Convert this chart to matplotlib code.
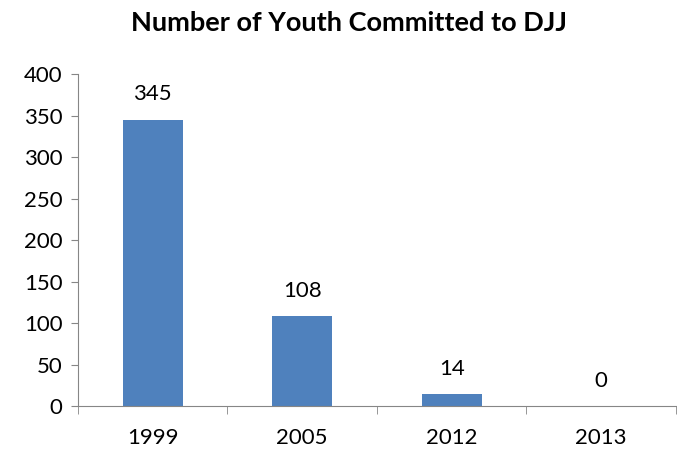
import matplotlib
matplotlib.use("Agg")
import matplotlib.pyplot as plt
import numpy as np

# chart data
years = ["1999", "2005", "2012", "2013"]
youth_committed = [345, 108, 14, 0]
y_ticks = [0, 50, 100, 150, 200, 250, 300, 350, 400]

plt.rcParams['font.family'] = ['Lato', 'DejaVu Sans']

fig = plt.figure(figsize=(6.77, 4.54), dpi=100)
ax = fig.add_axes([0.1152, 0.1057, 0.8833, 0.7313])

x = np.arange(len(years))
bars = ax.bar(x, youth_committed, width=0.4, color='#4F81BD')

# value labels above each bar
for xi, v in zip(x, youth_committed):
    ax.annotate(str(v), (xi, v), xytext=(0, 11), textcoords='offset points',
                ha='center', va='bottom', fontsize=16, color='black')

ax.set_xlim(-0.5, len(years) - 0.5)
ax.set_ylim(0, 400)
ax.set_yticks(y_ticks)
ax.tick_params(axis='y', labelsize=16, length=5, color='#868686', pad=6)

# category labels centred, ticks between categories
ax.set_xticks(x)
ax.set_xticklabels(years)
ax.tick_params(axis='x', which='major', length=0, labelsize=16, pad=16)
ax.set_xticks(np.arange(-0.5, len(years)), minor=True)
ax.tick_params(axis='x', which='minor', length=6, color='#868686')

for side in ['top', 'right']:
    ax.spines[side].set_visible(False)
for side in ['left', 'bottom']:
    ax.spines[side].set_color('#868686')

fig.suptitle("Number of Youth Committed to DJJ", x=0.515, y=0.975,
             fontsize=19.5, fontweight='bold')

fig.savefig('out.png', dpi=100)
plt.close(fig)
